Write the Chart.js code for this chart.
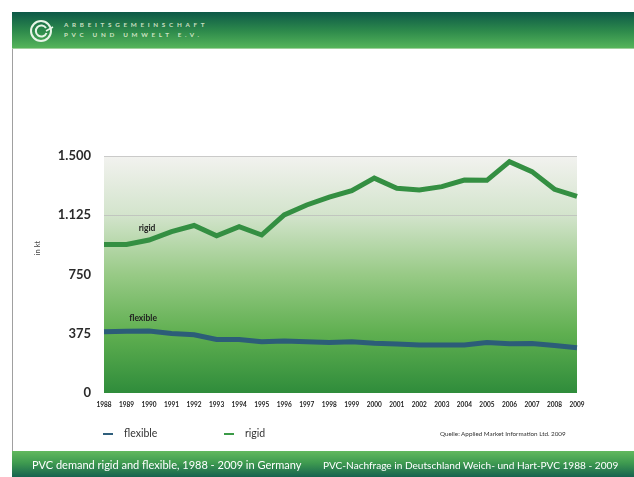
<!DOCTYPE html>
<html lang="de">
  <head>
    <meta charset="UTF-8" />
    <title>PVC-Nachfrage</title>
    <script src="https://cdn.jsdelivr.net/npm/chart.js"></script>
    <style>
      body {
        margin: 0;
        width: 634px;
        height: 477px;
        position: relative;
        background: #fff;
        font-family: "Lato", "Open Sans", sans-serif;
        overflow: hidden;
      }
      .header {
        position: absolute;
        left: 12px;
        top: 12px;
        width: 622px;
        height: 36px;
        background: linear-gradient(to bottom, #0c5847 0%, #2f8c4c 55%, #55b45a 100%);
        border-bottom: 1px solid #9fcf9c;
      }
      .header svg {
        position: absolute;
        left: 17px;
        top: 6px;
      }
      .org {
        position: absolute;
        left: 52px;
        color: rgba(245, 250, 225, 0.8);
        font-size: 6.3px;
        font-weight: bold;
        letter-spacing: 3.7px;
        white-space: nowrap;
      }
      .slide-line {
        position: absolute;
        left: 12px;
        top: 49px;
        width: 1px;
        height: 402px;
        background: #a0a0a0;
      }
      .footer {
        position: absolute;
        left: 12px;
        top: 451px;
        width: 622px;
        height: 26px;
        background: linear-gradient(to bottom, #62b95e 0%, #3f9b50 45%, #16634f 100%);
        color: #fff;
      }
      .footer span {
        position: absolute;
        top: 7px;
        white-space: nowrap;
      }
      .legend {
        position: absolute;
        top: 427px;
        font-size: 10.5px;
        color: #333;
        white-space: nowrap;
      }
      .legend i {
        display: inline-block;
        width: 10px;
        height: 2px;
        margin-right: 11px;
        vertical-align: middle;
      }
      .source {
        position: absolute;
        left: 440px;
        top: 430px;
        font-size: 6.3px;
        color: #333;
        white-space: nowrap;
      }
      #chart {
        position: absolute;
        left: 0;
        top: 0;
      }
    </style>
  </head>
  <body>
    <div class="header">
      <svg width="26" height="26" viewBox="0 0 26 26">
        <circle cx="12" cy="13" r="10" fill="none" stroke="#e8f5e8" stroke-width="2" />
        <path d="M17 10 A5.5 5.5 0 1 0 17.5 15" fill="none" stroke="#e8f5e8" stroke-width="2" />
        <path d="M17 13 L24 9" stroke="#e8f5e8" stroke-width="1.6" />
      </svg>
      <div class="org" style="top: 9px">ARBEITSGEMEINSCHAFT</div>
      <div class="org" style="top: 19px">PVC UND UMWELT E.V.</div>
    </div>
    <div class="slide-line"></div>

    <canvas id="chart" width="634" height="477"></canvas>

    <div class="legend" style="left: 103px"><i style="background: #2f5f7c"></i>flexible</div>
    <div class="legend" style="left: 224px"><i style="background: #3b9a47"></i>rigid</div>
    <div class="source">Quelle: Applied Market Information Ltd. 2009</div>

    <div class="footer">
      <span style="left: 20px; font-size: 11px">PVC demand rigid and flexible, 1988 - 2009 in Germany</span>
      <span style="left: 311px; font-size: 10.1px; top: 8px">PVC-Nachfrage in Deutschland Weich- und Hart-PVC 1988 - 2009</span>
    </div>

    <script>
      const years = [
        "1988", "1989", "1990", "1991", "1992", "1993", "1994", "1995",
        "1996", "1997", "1998", "1999", "2000", "2001", "2002", "2003",
        "2004", "2005", "2006", "2007", "2008", "2009",
      ];
      const rigid = [
        940, 940, 968, 1021, 1060, 995, 1053, 1000, 1127, 1190, 1240,
        1280, 1360, 1296, 1285, 1306, 1348, 1346, 1464, 1401, 1289, 1244,
      ];
      const flexible = [
        388, 391, 392, 377, 368, 339, 339, 325, 329, 325, 320,
        325, 315, 310, 304, 304, 304, 320, 312, 314, 300, 286,
      ];
      const yTicks = [0, 375, 750, 1125, 1500];

      // hintergrund im diagrammbereich: hell oben, gruen unten
      const bgPlugin = {
        id: "bg",
        beforeDraw(chart) {
          const { ctx, chartArea: a } = chart;
          const g = ctx.createLinearGradient(0, a.top, 0, a.bottom);
          g.addColorStop(0, "#f2f2ef");
          g.addColorStop(0.25, "#d3e4cc");
          g.addColorStop(0.5, "#98ca86");
          g.addColorStop(0.75, "#5faf50");
          g.addColorStop(1, "#2f8c3b");
          ctx.save();
          ctx.fillStyle = g;
          ctx.fillRect(a.left, a.top, a.right - a.left, a.bottom - a.top);
          ctx.restore();
        },
      };

      // beschriftungen an den linien + achsentitel
      const labelPlugin = {
        id: "labels",
        afterDraw(chart) {
          const { ctx, scales } = chart;
          ctx.save();
          ctx.fillStyle = "#222";
          ctx.font = "bold 8.5px Lato";
          ctx.textAlign = "center";
          const x = scales.x.getPixelForValue(2);
          ctx.fillText("rigid", x - 2, scales.y.getPixelForValue(rigid[2]) - 9);
          ctx.fillText("flexible", x - 6, scales.y.getPixelForValue(flexible[2]) - 10);
          ctx.translate(40, 248);
          ctx.rotate(-Math.PI / 2);
          ctx.font = "7.5px Lato";
          ctx.fillStyle = "#444";
          ctx.fillText("in kt", 0, 0);
          ctx.restore();
        },
      };

      new Chart(document.getElementById("chart"), {
        type: "line",
        data: {
          labels: years,
          datasets: [
            {
              label: "rigid",
              data: rigid,
              borderColor: "#348f42",
              borderWidth: 5,
              pointRadius: 0,
              tension: 0,
            },
            {
              label: "flexible",
              data: flexible,
              borderColor: "#2c5d78",
              borderWidth: 5,
              pointRadius: 0,
              tension: 0,
            },
          ],
        },
        options: {
          responsive: false,
          animation: false,
          layout: { padding: { left: 0, right: 57, top: 156, bottom: 64 } },
          plugins: { legend: { display: false }, tooltip: { enabled: false } },
          scales: {
            x: {
              offset: false,
              grid: { display: false, drawTicks: false },
              border: { display: false },
              afterFit(s) {
                s.height = 20;
              },
              ticks: {
                autoSkip: false,
                maxRotation: 0,
                padding: 8,
                color: "#222",
                font: { family: "Lato", size: 6.5, weight: "bold" },
              },
            },
            y: {
              min: 0,
              max: 1500,
              afterFit(s) {
                s.width = 104;
              },
              afterBuildTicks(s) {
                s.ticks = yTicks.map((v) => ({ value: v }));
              },
              grid: {
                // im gruenen bereich sieht man die linien im original nicht
                color: (c) => (c.tick && c.tick.value >= 1125 ? "rgba(185,185,185,0.7)" : "rgba(0,0,0,0)"),
                drawTicks: false,
              },
              border: { display: false },
              ticks: {
                padding: 13,
                color: "#2a2a2a",
                font: { family: "Lato", size: 13, weight: "bold" },
                callback: (v) => v.toLocaleString("de-DE"),
              },
            },
          },
        },
        plugins: [bgPlugin, labelPlugin],
      });
    </script>
  </body>
</html>
